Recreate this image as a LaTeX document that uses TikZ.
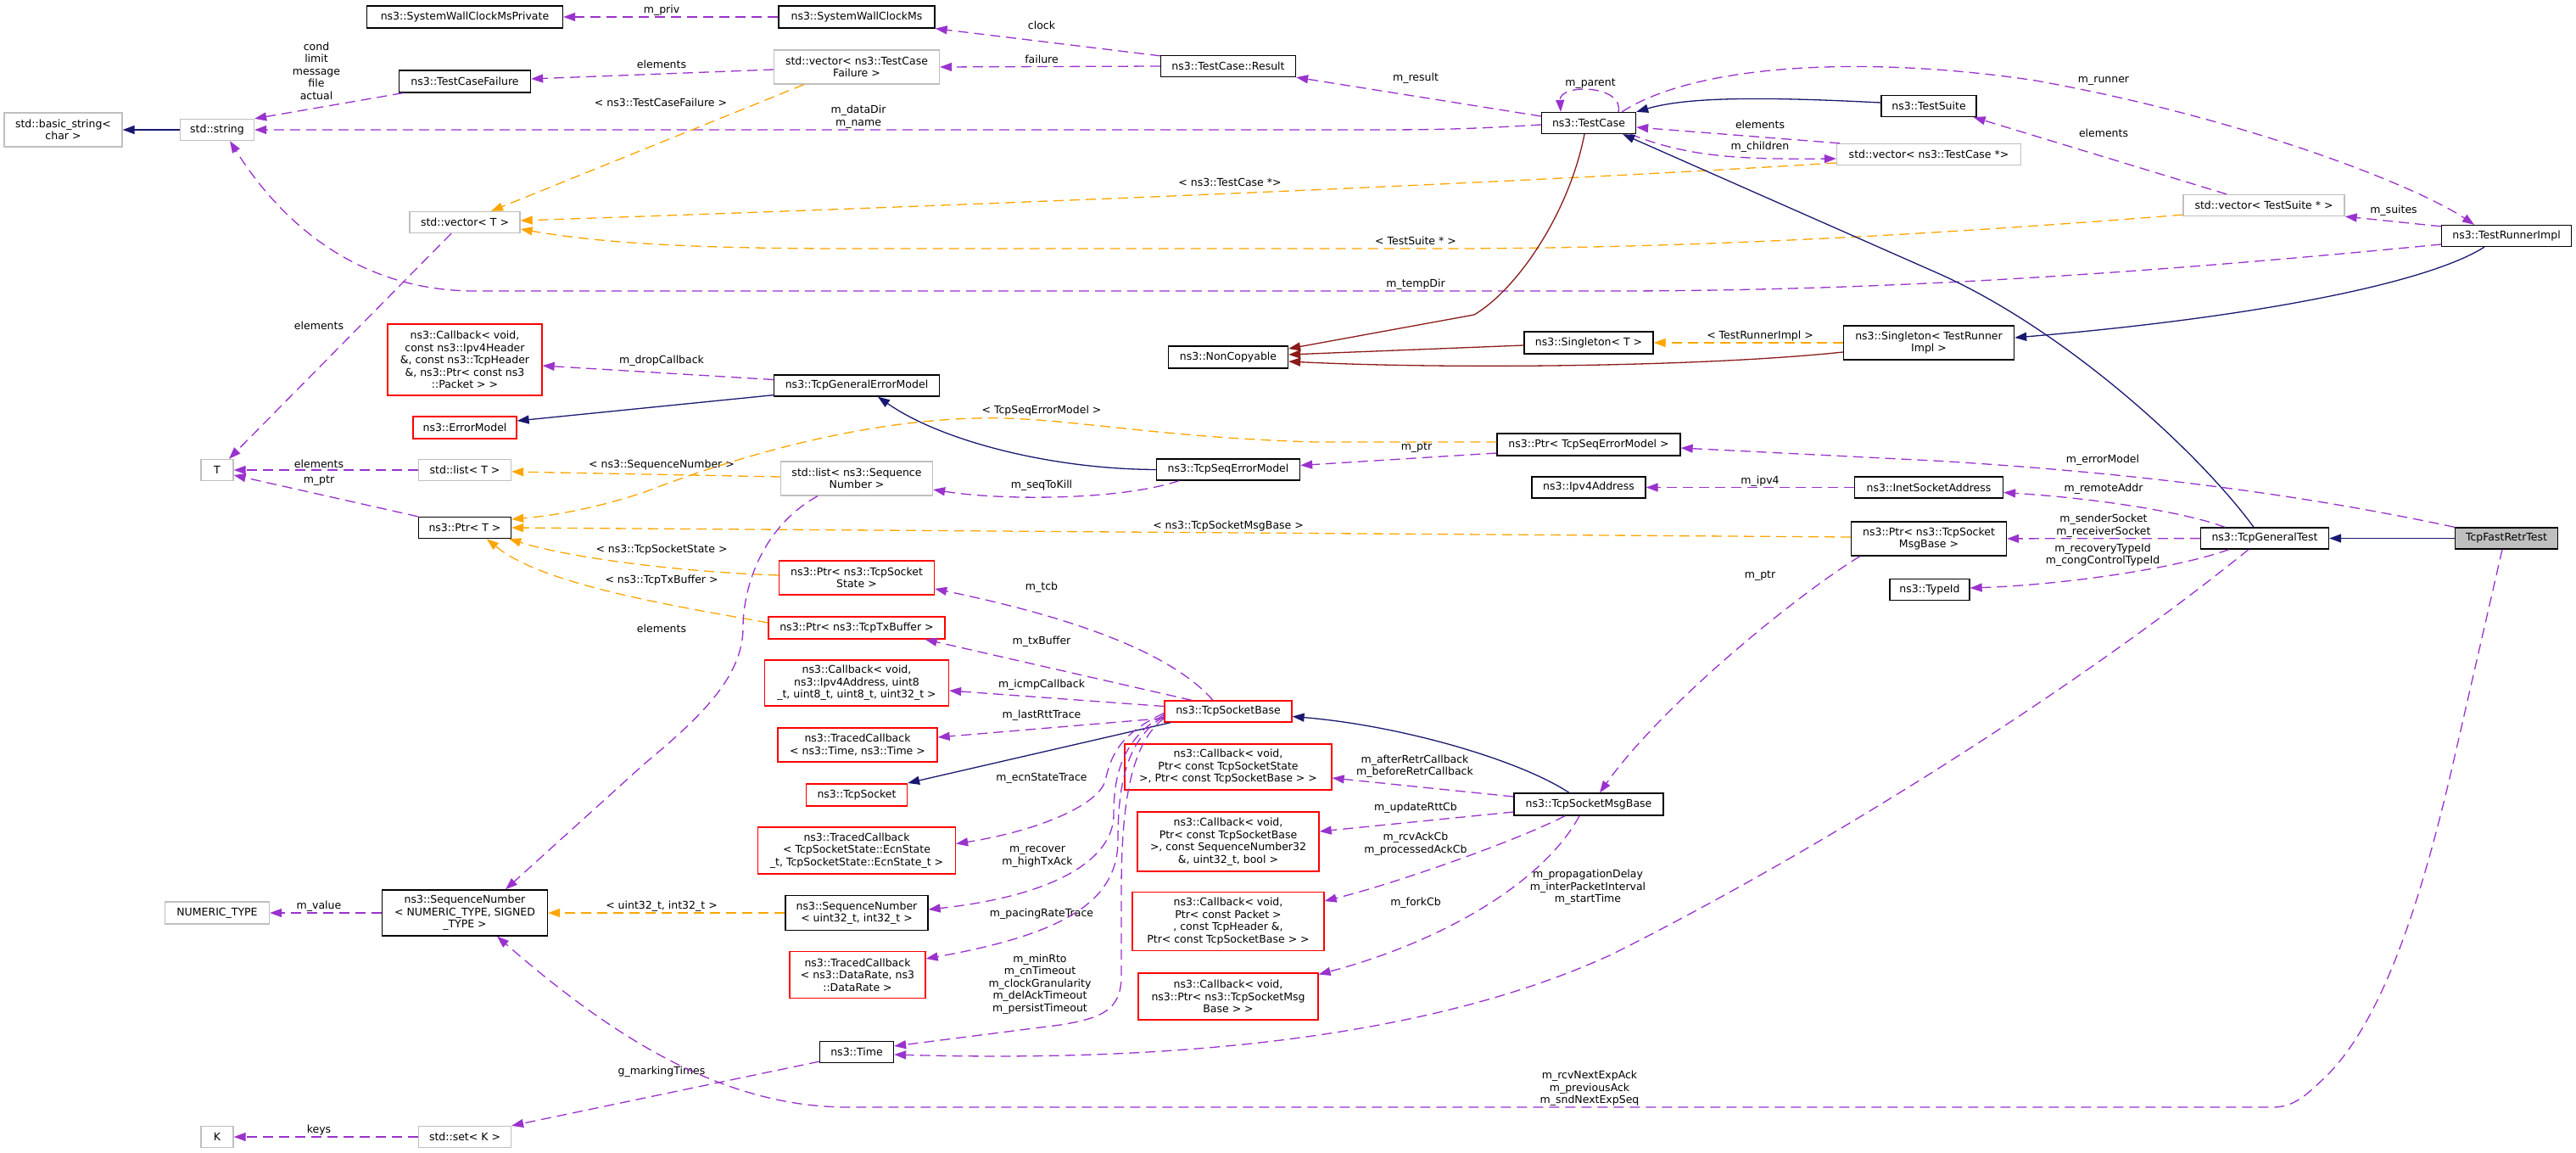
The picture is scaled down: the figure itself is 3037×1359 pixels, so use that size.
\documentclass[tikz,border=0pt]{standalone}
\usepackage{fontspec}
\setmainfont{DejaVu Sans}
\usetikzlibrary{arrows.meta,calc}
\definecolor{purp}{HTML}{9A32CD}
\definecolor{orng}{HTML}{FFA500}
\definecolor{mblue}{HTML}{191970}
\definecolor{fbrick}{HTML}{8B1A1A}
\definecolor{gborder}{HTML}{BFBFBF}
\definecolor{rborder}{HTML}{FF0000}
\definecolor{tfill}{HTML}{BFBFBF}
\begin{document}
\begin{tikzpicture}[x=1pt,y=-1pt,
  txt/.style={font=\fontsize{12.5}{14.5}\selectfont},
  bk/.style={txt,draw=black,line width=1.3pt,inner sep=0pt,align=center},
  gy/.style={txt,draw=gborder,line width=1.3pt,inner sep=0pt,align=center},
  rd/.style={txt,draw=rborder,line width=1.3pt,inner sep=0pt,align=center},
  lbl/.style={txt,inner sep=0pt,align=center},
  uses/.style={draw=purp,line width=1.3pt,dash pattern=on 12pt off 7pt,-{Triangle[length=14pt,width=10pt,fill=purp]}},
  tmpl/.style={draw=orng,line width=1.3pt,dash pattern=on 12pt off 7pt,-{Triangle[length=14pt,width=10pt,fill=orng]}},
  inh/.style={draw=mblue,line width=1.3pt,-{Triangle[length=14pt,width=10pt,fill=mblue]}},
  prot/.style={draw=fbrick,line width=1.3pt,-{Triangle[length=14pt,width=10pt,fill=fbrick]}}
]
\fill[white] (0,0) rectangle (3037,1359);
\useasboundingbox (0,0) rectangle (3037,1359);

% ---------- nodes ----------
\node[gy,minimum width=139pt,minimum height=40pt] (bstr) at (74.5,153) {std::basic\_string<\\char >};
\node[gy,minimum width=87pt,minimum height=25pt] (str) at (256,153) {std::string};
\node[bk,minimum width=231pt,minimum height=26pt] (swcp) at (548,20) {ns3::SystemWallClockMsPrivate};
\node[bk,minimum width=155pt,minimum height=26pt] (tcf) at (548,96) {ns3::TestCaseFailure};
\node[gy,minimum width=130pt,minimum height=25pt] (vecT) at (548,262) {std::vector< T >};
\node[rd,minimum width=182pt,minimum height=84pt] (cbip) at (548,424) {ns3::Callback< void,\\const ns3::Ipv4Header\\\&, const ns3::TcpHeader\\\&, ns3::Ptr< const ns3\\::Packet > >};
\node[rd,minimum width=122pt,minimum height=26pt] (errm) at (548,504) {ns3::ErrorModel};
\node[gy,minimum width=38pt,minimum height=25pt] (nT) at (256,554) {T};
\node[gy,minimum width=109pt,minimum height=25pt] (listT) at (548,554) {std::list< T >};
\node[bk,minimum width=109pt,minimum height=25pt] (ptrT) at (548,622) {ns3::Ptr< T >};
\node[gy,minimum width=123pt,minimum height=26pt] (numt) at (256,1076) {NUMERIC\_TYPE};
\node[bk,minimum width=195pt,minimum height=54pt] (seqNT) at (548,1076) {ns3::SequenceNumber\\< NUMERIC\_TYPE, SIGNED\\\_TYPE >};
\node[gy,minimum width=38pt,minimum height=25pt] (nK) at (256,1340) {K};
\node[gy,minimum width=109pt,minimum height=25pt] (setK) at (548,1340) {std::set< K >};

\node[bk,minimum width=184pt,minimum height=26pt] (swc) at (1010,20) {ns3::SystemWallClockMs};
\node[gy,minimum width=195pt,minimum height=40pt] (vecTCF) at (1010,79) {std::vector< ns3::TestCase\\Failure >};
\node[bk,minimum width=195pt,minimum height=25pt] (tgem) at (1010,454.5) {ns3::TcpGeneralErrorModel};
\node[gy,minimum width=179pt,minimum height=40pt] (listSN) at (1010,564) {std::list< ns3::Sequence\\Number >};
\node[rd,minimum width=183pt,minimum height=40pt] (ptrTSS) at (1010,681) {ns3::Ptr< ns3::TcpSocket\\State >};
\node[rd,minimum width=208pt,minimum height=26pt] (ptrTTB) at (1010,740) {ns3::Ptr< ns3::TcpTxBuffer >};
\node[rd,minimum width=217pt,minimum height=54pt] (cbi4) at (1010,805) {ns3::Callback< void,\\ns3::Ipv4Address, uint8\\\_t, uint8\_t, uint8\_t, uint32\_t >};
\node[rd,minimum width=188pt,minimum height=40pt] (tcTT) at (1011,878) {ns3::TracedCallback\\< ns3::Time, ns3::Time >};
\node[rd,minimum width=119pt,minimum height=26pt] (tcpS) at (1010,937) {ns3::TcpSocket};
\node[rd,minimum width=233pt,minimum height=55pt] (tcECN) at (1010,1002.5) {ns3::TracedCallback\\< TcpSocketState::EcnState\\\_t, TcpSocketState::EcnState\_t >};
\node[bk,minimum width=168pt,minimum height=41pt] (seqU) at (1010,1076) {ns3::SequenceNumber\\< uint32\_t, int32\_t >};
\node[rd,minimum width=160pt,minimum height=55pt] (tcDR) at (1011,1149) {ns3::TracedCallback\\< ns3::DataRate, ns3\\::DataRate >};
\node[bk,minimum width=87pt,minimum height=25pt] (time) at (1010,1240) {ns3::Time};

\node[bk,minimum width=159pt,minimum height=25pt] (result) at (1448,78) {ns3::TestCase::Result};
\node[bk,minimum width=141pt,minimum height=26pt] (noncopy) at (1448,421) {ns3::NonCopyable};
\node[bk,minimum width=169pt,minimum height=25pt] (tsem) at (1448,553.5) {ns3::TcpSeqErrorModel};
\node[rd,minimum width=150pt,minimum height=25pt] (tsb) at (1448,838.5) {ns3::TcpSocketBase};
\node[rd,minimum width=244pt,minimum height=54pt] (cbSS) at (1448,904) {ns3::Callback< void,\\Ptr< const TcpSocketState\\>, Ptr< const TcpSocketBase > >};
\node[rd,minimum width=214pt,minimum height=70pt] (cbRTT) at (1448,992) {ns3::Callback< void,\\Ptr< const TcpSocketBase\\>, const SequenceNumber32\\\&, uint32\_t, bool >};
\node[rd,minimum width=226pt,minimum height=69pt] (cbPkt) at (1448,1086) {ns3::Callback< void,\\Ptr< const Packet >\\, const TcpHeader \&,\\Ptr< const TcpSocketBase > >};
\node[rd,minimum width=212pt,minimum height=55pt] (cbFork) at (1448,1174.5) {ns3::Callback< void,\\ns3::Ptr< ns3::TcpSocketMsg\\Base > >};

\node[bk,minimum width=111pt,minimum height=25pt] (tcase) at (1873,145) {ns3::TestCase};
\node[bk,minimum width=152pt,minimum height=26pt] (singT) at (1873,404) {ns3::Singleton< T >};
\node[bk,minimum width=216pt,minimum height=26pt] (ptrTSEM) at (1873,524) {ns3::Ptr< TcpSeqErrorModel >};
\node[bk,minimum width=134pt,minimum height=25pt] (ipv4) at (1873,574.5) {ns3::Ipv4Address};
\node[bk,minimum width=176pt,minimum height=26pt] (tsmb) at (1873,948) {ns3::TcpSocketMsgBase};

\node[bk,minimum width=112pt,minimum height=25pt] (tsuite) at (2274,125) {ns3::TestSuite};
\node[gy,minimum width=217pt,minimum height=25pt] (vecTC) at (2274,182) {std::vector< ns3::TestCase *>};
\node[bk,minimum width=201pt,minimum height=40pt] (singTRI) at (2274,404) {ns3::Singleton< TestRunner\\Impl >};
\node[bk,minimum width=175pt,minimum height=25pt] (inet) at (2274,574.5) {ns3::InetSocketAddress};
\node[bk,minimum width=183pt,minimum height=40pt] (ptrTSMB) at (2274,635) {ns3::Ptr< ns3::TcpSocket\\MsgBase >};
\node[bk,minimum width=94pt,minimum height=25pt] (typeid) at (2275,695) {ns3::TypeId};

\node[gy,minimum width=190pt,minimum height=25pt] (vecTS) at (2669,242) {std::vector< TestSuite * >};
\node[bk,minimum width=151pt,minimum height=25pt] (tgt) at (2670,634.5) {ns3::TcpGeneralTest};
\node[bk,minimum width=153pt,minimum height=25pt] (tri) at (2955,278) {ns3::TestRunnerImpl};
\node[bk,fill=tfill,minimum width=121pt,minimum height=25pt] (tfrt) at (2955,634.5) {TcpFastRetrTest};

% ---------- labels ----------
\node[lbl] (la) at (373,83.5) {cond\\limit\\message\\file\\actual};
\node[lbl] (lb) at (780,12) {m\_priv};
\node[lbl] (lc) at (1228,30) {clock};
\node[lbl] (ld) at (1228,70) {failure};
\node[lbl] (le) at (780,76) {elements};
\node[lbl] (lf) at (779,121) {< ns3::TestCaseFailure >};
\node[lbl] (lg) at (1012,137.5) {m\_dataDir\\m\_name};
\node[lbl] (lh) at (1450,215) {< ns3::TestCase *>};
\node[lbl] (li) at (1669,284) {< TestSuite * >};
\node[lbl] (lj) at (1669,335) {m\_tempDir};
\node[lbl] (lk) at (1669,92) {m\_result};
\node[lbl] (ll) at (1875,99) {m\_parent};
\node[lbl] (lm) at (2075,147) {elements};
\node[lbl] (ln) at (2075,173) {m\_children};
\node[lbl] (lo) at (2075,396) {< TestRunnerImpl >};
\node[lbl] (lp) at (2480,95) {m\_runner};
\node[lbl] (lq) at (2480,157) {elements};
\node[lbl] (lr) at (2822,248) {m\_suites};
\node[lbl] (ls) at (376,384) {elements};
\node[lbl] (lt) at (780,425) {m\_dropCallback};
\node[lbl] (lu) at (376,547) {elements};
\node[lbl] (lv) at (376,567) {m\_ptr};
\node[lbl] (lw) at (780,548) {< ns3::SequenceNumber >};
\node[lbl] (lx) at (780,648) {< ns3::TcpSocketState >};
\node[lbl] (ly) at (780,684) {< ns3::TcpTxBuffer >};
\node[lbl] (lz) at (780,741) {elements};
\node[lbl] (m1) at (1228,484) {< TcpSeqErrorModel >};
\node[lbl] (m2) at (1228,572) {m\_seqToKill};
\node[lbl] (m3) at (1448,620) {< ns3::TcpSocketMsgBase >};
\node[lbl] (m4) at (1228,692) {m\_tcb};
\node[lbl] (m5) at (1228,756) {m\_txBuffer};
\node[lbl] (m6) at (1228,807) {m\_icmpCallback};
\node[lbl] (m7) at (1228,843) {m\_lastRttTrace};
\node[lbl] (m8) at (1670,528) {m\_ptr};
\node[lbl] (m9) at (2075,567) {m\_ipv4};
\node[lbl] (m10) at (2075,679) {m\_ptr};
\node[lbl] (m11) at (1668,903) {m\_afterRetrCallback\\m\_beforeRetrCallback};
\node[lbl] (m12) at (2479,542) {m\_errorModel};
\node[lbl] (m13) at (2480,576) {m\_remoteAddr};
\node[lbl] (m14) at (2480,619.5) {m\_senderSocket\\m\_receiverSocket};
\node[lbl] (m15) at (2479,654) {m\_recoveryTypeId\\m\_congControlTypeId};
\node[lbl] (m16) at (376,1068) {m\_value};
\node[lbl] (m17) at (780,1068) {< uint32\_t, int32\_t >};
\node[lbl] (m18) at (780,1263) {g\_markingTimes};
\node[lbl] (m19) at (376,1332) {keys};
\node[lbl] (m20) at (1228,917) {m\_ecnStateTrace};
\node[lbl] (m21) at (1223,1010) {m\_recover\\m\_highTxAck};
\node[lbl] (m22) at (1228,1077) {m\_pacingRateTrace};
\node[lbl] (m23) at (1226,1160) {m\_minRto\\m\_cnTimeout\\m\_clockGranularity\\m\_delAckTimeout\\m\_persistTimeout};
\node[lbl] (m24) at (1669,952) {m\_updateRttCb};
\node[lbl] (m25) at (1669,994.5) {m\_rcvAckCb\\m\_processedAckCb};
\node[lbl] (m26) at (1669,1064) {m\_forkCb};
\node[lbl] (m27) at (1872,1046) {m\_propagationDelay\\m\_interPacketInterval\\m\_startTime};
\node[lbl] (m28) at (1874,1283) {m\_rcvNextExpAck\\m\_previousAck\\m\_sndNextExpSeq};

% ---------- edges ----------
\draw[inh] (str) -- (bstr);
\draw[uses] ([shift={(5,0)}]tcf.south west) -- (str.north east);
\draw[uses] ([shift={(0,2)}]tcase.west) .. controls (1720,153) and (1680,153) .. (1600,153) -- (str.east);
\draw[uses] ([shift={(0,10)}]tri.west) .. controls (2500,325) and (2200,343) .. (1900,343) -- (560,343) .. controls (420,343) and (330,260) .. ([shift={(15,0)}]str.south);
\draw[uses] (swc) -- (swcp);
\draw[uses] ([shift={(0,1)}]result.north west) -- (swc.south east);
\draw[uses] (result.west) -- (vecTCF.east);
\draw[uses] ([shift={(0,3)}]vecTCF.west) -- ([shift={(0,-3)}]tcf.east);
\draw[tmpl] ([shift={(36,0)}]vecTCF.south west) -- ([shift={(31,0)}]vecT.north);
\draw[uses] ([shift={(0,-8)}]tcase.west) -- (result.south east);
\draw[uses] ([shift={(35,0)}]tcase.north) .. controls (1915,100) and (1838,98) .. ([shift={(-33,0)}]tcase.north);
\draw[inh] ([shift={(0,-4)}]tsuite.west) .. controls (2080,114) and (1990,114) .. (tcase.north east);
\draw[uses] ([shift={(4,0)}]vecTC.north west) -- ([shift={(0,5)}]tcase.east);
\draw[uses] ([shift={(-7,0)}]tcase.south east) .. controls (1990,185) and (2050,188) .. ([shift={(0,5)}]vecTC.west);
\draw[tmpl] ([shift={(0,10)}]vecTC.west) .. controls (1800,215) and (1200,240) .. ([shift={(0,-2)}]vecT.east);
\draw[tmpl] ([shift={(0,-2)}]vecTS.south west) .. controls (2300,275) and (2000,293) .. (1700,293) -- (1000,293) .. controls (800,293) and (700,285) .. ([shift={(0,8)}]vecT.east);
\draw[uses] ([shift={(-44,0)}]vecTS.north) -- ([shift={(-4,0)}]tsuite.south east);
\draw[uses] ([shift={(0,2)}]tri.north west) -- (vecTS.south east);
\draw[uses] ([shift={(-17,0)}]tcase.north east) .. controls (2000,75) and (2200,65) .. (2400,95) .. controls (2650,140) and (2850,220) .. ([shift={(-38,0)}]tri.north);
\draw[prot] ([shift={(-5,0)}]tcase.south) .. controls (1850,250) and (1790,340) .. (1738,371) -- ([shift={(0,-10)}]noncopy.east);
\draw[prot] ([shift={(0,3)}]singT.west) -- ([shift={(0,-3)}]noncopy.east);
\draw[prot] ([shift={(0,11)}]singTRI.west) .. controls (2000,433) and (1700,435) .. ([shift={(0,5)}]noncopy.east);
\draw[tmpl] (singTRI.west) -- (singT.east);
\draw[inh] ([shift={(-26,0)}]tri.south) .. controls (2860,335) and (2650,375) .. ([shift={(0,-6)}]singTRI.east);
\draw[inh] ([shift={(-13,0)}]tgt.north) .. controls (2590,530) and (2430,385) .. (2280,320) -- ([shift={(-16,0)}]tcase.south east);
\draw[inh] ([shift={(0,-2)}]tgem.south west) -- ([shift={(0,-8)}]errm.east);
\draw[uses] ([shift={(0,-7)}]tgem.west) -- ([shift={(0,7)}]cbip.east);
\draw[inh] (tsem.west) .. controls (1240,553) and (1110,520) .. ([shift={(25,0)}]tgem.south);
\draw[uses] ([shift={(-58,0)}]tsem.south) .. controls (1320,590) and (1180,590) .. ([shift={(0,13)}]listSN.east);
\draw[uses] ([shift={(0,10)}]ptrTSEM.west) -- ([shift={(0,-5)}]tsem.east);
\draw[tmpl] ([shift={(0,-3)}]ptrTSEM.west) -- (1550,521) .. controls (1350,515) and (1250,490) .. (1150,493) .. controls (1000,497) and (850,545) .. (760,580) .. controls (700,600) and (650,608) .. ([shift={(0,-10)}]ptrT.east);
\draw[tmpl] ([shift={(0,-2)}]listSN.west) -- ([shift={(0,2)}]listT.east);
\draw[uses] (listT) -- (nT);
\draw[uses] (ptrT.north west) -- ([shift={(0,6)}]nT.east);
\draw[uses] ([shift={(-16,0)}]vecT.south) -- ([shift={(14,0)}]nT.north);
\draw[tmpl] ([shift={(0,-2)}]ptrTSMB.west) -- (ptrT.east);
\draw[tmpl] ([shift={(0,-3)}]ptrTSS.west) .. controls (820,675) and (680,660) .. ([shift={(-3,0)}]ptrT.south east);
\draw[tmpl] ([shift={(0,-6)}]ptrTTB.west) .. controls (800,715) and (640,690) .. ([shift={(26,0)}]ptrT.south);
\draw[uses] ([shift={(-46,0)}]listSN.south) .. controls (900,620) and (876,690) .. (876,740) .. controls (876,800) and (820,850) .. (760,900) -- ([shift={(48,0)}]seqNT.north);
\draw[tmpl] (seqU) -- (seqNT);
\draw[uses] (seqNT) -- (numt);
\draw[uses] (setK) -- (nK);
\draw[uses] ([shift={(0,-2)}]time.south west) -- (setK.north east);
\draw[uses] ([shift={(-5,0)}]tfrt.south) -- (2892,900) .. controls (2855,1060) and (2810,1200) .. (2744,1267) .. controls (2720,1290) and (2705,1305) .. (2680,1305) -- (1000,1305) .. controls (850,1305) and (720,1220) .. ([shift={(38,0)}]seqNT.south);
\draw[uses] (tfrt.north west) .. controls (2700,580) and (2500,556) .. (2280,543) -- ([shift={(0,4)}]ptrTSEM.east);
\draw[inh] (tfrt) -- (tgt);
\draw[uses] ([shift={(-47,0)}]tgt.north) .. controls (2580,605) and (2480,588) .. ([shift={(0,6)}]inet.east);
\draw[uses] (tgt) -- (ptrTSMB);
\draw[uses] ([shift={(-42,0)}]tgt.south) .. controls (2560,672) and (2420,690) .. ([shift={(0,-2)}]typeid.east);
\draw[uses] ([shift={(-19,0)}]tgt.south) .. controls (2450,810) and (2150,1000) .. (1900,1125) .. controls (1650,1240) and (1300,1250) .. ([shift={(0,3)}]time.east);
\draw[uses] (inet) -- (ipv4);
\draw[uses] ([shift={(11,0)}]ptrTSMB.south west) .. controls (2120,700) and (1960,830) .. ([shift={(13,0)}]tsmb.north);
\draw[inh] ([shift={(-23,0)}]tsmb.north) .. controls (1790,895) and (1650,855) .. ([shift={(0,6)}]tsb.east);
\draw[uses] ([shift={(0,-9)}]tsmb.west) -- ([shift={(0,13)}]cbSS.east);
\draw[uses] ([shift={(0,9)}]tsmb.west) -- ([shift={(0,-12)}]cbRTT.east);
\draw[uses] ([shift={(-28,0)}]tsmb.south) .. controls (1790,990) and (1650,1040) .. ([shift={(0,-24)}]cbPkt.east);
\draw[uses] ([shift={(-11,0)}]tsmb.south) .. controls (1820,1040) and (1700,1110) .. ([shift={(0,-26)}]cbFork.east);
\draw[inh] ([shift={(-68,0)}]tsb.south) -- ([shift={(0,-14)}]tcpS.east);
\draw[uses] ([shift={(-18,0)}]tsb.north) .. controls (1390,780) and (1300,735) .. ([shift={(0,13)}]ptrTSS.east);
\draw[uses] ([shift={(-43,0)}]tsb.north) -- ([shift={(-24,0)}]ptrTTB.south east);
\draw[uses] ([shift={(0,-6)}]tsb.west) -- ([shift={(0,9)}]cbi4.east);
\draw[uses] ([shift={(0,8)}]tsb.west) -- ([shift={(0,-9)}]tcTT.east);
\draw[uses] ([shift={(0,2)}]tsb.west) .. controls (1320,865) and (1310,890) .. (1303,920) .. controls (1295,950) and (1220,980) .. ([shift={(0,-8)}]tcECN.east);
\draw[uses] ([shift={(0,4)}]tsb.west) .. controls (1325,870) and (1313,910) .. (1313,960) .. controls (1313,1010) and (1250,1055) .. ([shift={(0,-4)}]seqU.east);
\draw[uses] ([shift={(0,6)}]tsb.west) .. controls (1330,870) and (1318,920) .. (1318,990) .. controls (1318,1060) and (1260,1100) .. ([shift={(0,-19)}]tcDR.east);
\draw[uses] ([shift={(0,8)}]tsb.west) .. controls (1335,875) and (1322,940) .. (1322,1050) -- (1322,1150) .. controls (1322,1190) and (1300,1200) .. (1250,1208) -- ([shift={(0,-7)}]time.east);
\end{tikzpicture}
\end{document}
